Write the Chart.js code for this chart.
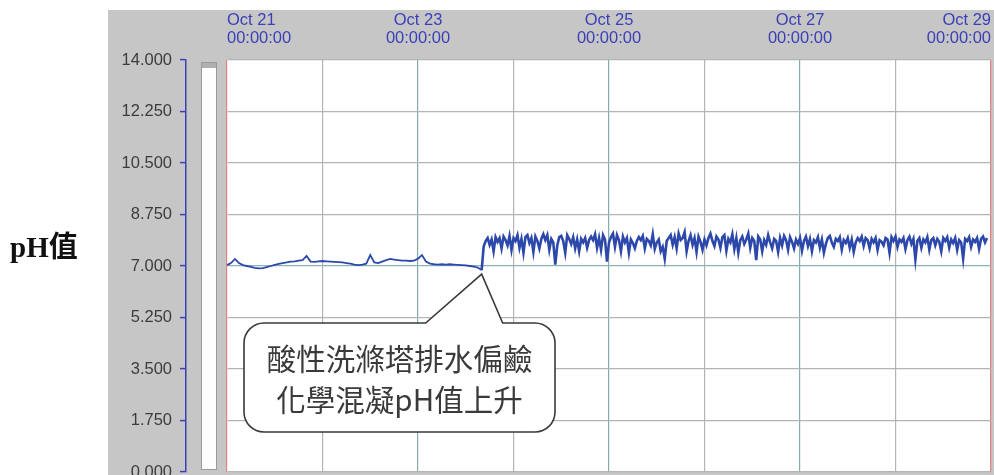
<!DOCTYPE html>
<html>
<head>
<meta charset="utf-8">
<script src="https://cdn.jsdelivr.net/npm/chart.js@4.4.1/dist/chart.umd.min.js"></script>
<style>
  html, body { margin: 0; padding: 0; background: #fff; }
  #wrap { width: 994px; height: 475px; }
</style>
</head>
<body>
<div id="wrap"><canvas id="phChart" width="994" height="475"></canvas></div>
<script>
// tick labels (one per day, Oct 21 00:00 = hour 0)
const dayLabels = ["Oct 21", "Oct 22", "Oct 23", "Oct 24", "Oct 25", "Oct 26", "Oct 27", "Oct 28", "Oct 29"];
const timeLabel = "00:00:00";
const yTicks = [0, 1.75, 3.5, 5.25, 7, 8.75, 10.5, 12.25, 14];

// hourly pH readings from Oct 21 00:00 to Oct 23 16:00
const phBefore = [
  7.03, 7.10, 7.24, 7.10, 7.03, 7.00, 6.97, 6.94, 6.92, 6.93, 6.96, 7.00, 7.04, 7.07, 7.10, 7.12,
  7.15, 7.16, 7.18, 7.20, 7.34, 7.15, 7.14, 7.16, 7.17, 7.16, 7.15, 7.14, 7.13, 7.12, 7.10, 7.08,
  7.05, 7.03, 7.05, 7.08, 7.37, 7.12, 7.10, 7.15, 7.20, 7.24, 7.22, 7.20, 7.18, 7.18, 7.17, 7.18,
  7.25, 7.37, 7.15, 7.08, 7.06, 7.05, 7.06, 7.05, 7.06, 7.05, 7.04, 7.03, 7.02, 7.00, 6.98, 6.95,
  6.86
];
// half-hourly pH readings from Oct 23 16:30 onward
const phAfter = [
  7.66, 7.85, 7.95, 7.72, 7.90, 7.50, 7.98, 7.82, 7.95, 7.60, 8.00, 7.88, 7.70, 8.02, 7.55, 7.95,
  7.85, 8.05, 7.62, 7.92, 7.45, 7.98, 8.05, 7.78, 7.95, 7.48, 8.00, 7.85, 7.60, 7.92, 8.08, 7.88,
  8.05, 7.55, 7.92, 7.80, 7.05, 7.70, 7.98, 8.02, 7.85, 7.45, 8.05, 7.92, 7.75, 7.98, 7.60, 7.90,
  7.50, 7.92, 7.80, 7.95, 7.62, 7.88, 8.00, 7.88, 8.08, 7.62, 7.95, 7.55, 8.05, 7.90, 7.15, 7.80,
  7.98, 8.10, 7.65, 8.05, 7.88, 7.50, 8.00, 7.80, 7.95, 7.45, 7.90, 7.78, 7.60, 7.85, 7.98, 7.88,
  8.02, 7.60, 7.92, 7.85, 7.70, 8.08, 7.58, 7.80, 7.90, 7.50, 7.65, 7.25, 7.85, 7.95, 8.05, 7.72,
  7.98, 7.60, 8.10, 7.88, 7.95, 8.15, 7.50, 7.85, 8.05, 7.72, 7.95, 7.48, 8.00, 7.82, 7.55, 7.90,
  7.70, 7.95, 8.10, 7.85, 7.68, 8.00, 7.90, 7.62, 7.98, 8.05, 7.52, 7.92, 7.80, 8.08, 7.58, 7.95,
  7.45, 7.88, 8.00, 7.75, 7.90, 8.10, 7.62, 7.95, 7.85, 7.20, 8.00, 7.90, 7.50, 7.88, 7.72, 8.05,
  7.80, 7.60, 7.92, 7.85, 7.48, 7.95, 7.70, 8.02, 7.88, 7.55, 7.98, 7.82, 7.60, 7.90, 7.75, 7.95,
  7.52, 7.85, 8.00, 7.68, 7.92, 7.50, 7.88, 7.80, 7.98, 7.62, 7.90, 7.45, 7.75, 7.95, 8.02, 7.80,
  7.65, 7.92, 7.85, 7.98, 7.55, 7.88, 7.78, 7.95, 7.62, 7.90, 7.48, 7.80, 7.95, 7.85, 8.00, 7.68,
  7.95, 7.88, 7.60, 7.92, 7.80, 7.95, 7.55, 7.88, 7.82, 7.70, 7.95, 7.90, 7.45, 7.98, 7.85, 8.00,
  7.65, 7.90, 7.82, 7.95, 7.58, 7.88, 8.00, 7.75, 7.92, 7.22, 7.85, 7.95, 7.62, 7.90, 7.80, 7.98,
  7.55, 7.88, 7.95, 7.70, 7.92, 7.82, 7.50, 7.95, 7.85, 7.98, 7.62, 7.90, 7.78, 7.95, 7.55, 7.88,
  7.80, 7.25, 7.92, 7.85, 7.98, 7.65, 7.90, 7.82, 7.95, 7.58, 7.92, 8.00, 7.80, 7.95
];
const calloutLines = ["酸性洗滌塔排水偏鹼", "化學混凝pH值上升"];
const axisTitle = "pH值";

const points = phBefore.map((v, i) => ({ x: i, y: v }))
  .concat(phAfter.map((v, i) => ({ x: phBefore.length - 0.5 + i / 2, y: v })));

const blue = "#3b3fb8";
const lineBlue = "#2c48ab";

const backdrop = {
  id: "backdrop",
  beforeDraw(chart) {
    const { ctx, chartArea: a } = chart;
    ctx.save();
    ctx.fillStyle = "#fff";
    ctx.fillRect(0, 0, chart.width, chart.height);
    ctx.fillStyle = "#c6c6c6";
    ctx.fillRect(108, 10, chart.width - 108, chart.height - 10);
    ctx.fillStyle = "#fff";
    ctx.fillRect(a.left, a.top, a.right - a.left, a.bottom - a.top);
    // scroll bar next to the axis
    ctx.fillStyle = "#fdfdfd";
    ctx.fillRect(a.left - 25, a.top + 2, 14, a.bottom - a.top - 4);
    ctx.strokeStyle = "#9a9a9a";
    ctx.lineWidth = 1;
    ctx.strokeRect(a.left - 25.5, a.top + 2.5, 15, a.bottom - a.top - 5);
    ctx.fillStyle = "#b0b0b0";
    ctx.fillRect(a.left - 25, a.top + 3, 14, 5);
    ctx.restore();
  },
  afterDraw(chart) {
    const { ctx } = chart;
    ctx.save();
    ctx.fillStyle = "#111";
    ctx.font = "bold 29px 'Liberation Serif', 'Noto Sans CJK TC', serif";
    ctx.textBaseline = "alphabetic";
    ctx.fillText(axisTitle, 10, 257);
    ctx.restore();
  }
};

const callout = {
  id: "callout",
  afterDatasetsDraw(chart) {
    const { ctx, chartArea: a, scales } = chart;
    const tipX = scales.x.getPixelForValue(phBefore.length - 1);
    const tipY = scales.y.getPixelForValue(phBefore[phBefore.length - 1]) + 4;
    const l = a.left + 17, t = a.top + 263, r = a.left + 328, b = a.top + 372, rad = 20;
    const p1 = tipX - 56, p2 = tipX + 21;
    ctx.save();
    ctx.beginPath();
    ctx.moveTo(l + rad, t);
    ctx.lineTo(p1, t);
    ctx.lineTo(tipX, tipY);
    ctx.lineTo(p2, t);
    ctx.lineTo(r - rad, t);
    ctx.arcTo(r, t, r, t + rad, rad);
    ctx.lineTo(r, b - rad);
    ctx.arcTo(r, b, r - rad, b, rad);
    ctx.lineTo(l + rad, b);
    ctx.arcTo(l, b, l, b - rad, rad);
    ctx.lineTo(l, t + rad);
    ctx.arcTo(l, t, l + rad, t, rad);
    ctx.closePath();
    ctx.fillStyle = "#fff";
    ctx.fill();
    ctx.strokeStyle = "#3a3a3a";
    ctx.lineWidth = 1.6;
    ctx.stroke();
    ctx.fillStyle = "#3a3a3a";
    ctx.font = "29.5px 'Noto Sans CJK TC', 'Liberation Serif', serif";
    ctx.textAlign = "center";
    ctx.textBaseline = "middle";
    const cx = (l + r) / 2;
    ctx.fillText(calloutLines[0], cx, t + 36);
    ctx.fillText(calloutLines[1], cx, t + 77);
    ctx.restore();
  }
};

new Chart(document.getElementById("phChart"), {
  type: "line",
  data: {
    datasets: [{
      data: points,
      borderColor: lineBlue,
      borderWidth: 2,
      segment: {
        borderWidth: (c) => (c.p0.parsed.x >= phBefore.length - 1 ? 2.6 : 1.8)
      },
      pointRadius: 0,
      tension: 0,
      fill: false
    }]
  },
  options: {
    responsive: false,
    animation: false,
    layout: { padding: { left: 0, right: 3, top: 0, bottom: 3 } },
    plugins: { legend: { display: false }, tooltip: { enabled: false } },
    scales: {
      x: {
        type: "linear",
        position: "top",
        min: 0,
        max: 192,
        afterFit(s) { s.height = 60; s.paddingLeft = 0; s.paddingRight = 0; },
        afterBuildTicks(s) { s.ticks = dayLabels.map((d, i) => ({ value: i * 24 })); },
        ticks: {
          autoSkip: false,
          maxRotation: 0,
          align: "inner",
          padding: 12,
          color: blue,
          font: { family: "'Liberation Sans', Arial, sans-serif", size: 16.5, lineHeight: 1.1 },
          callback: (v) => (v % 48 === 0 ? [dayLabels[v / 24], timeLabel] : "")
        },
        grid: {
          drawTicks: false,
          lineWidth: 1.2,
          color: (c) => {
            const v = c.tick ? c.tick.value : -1;
            if (v === 0 || v === 192) return "#e68080";
            if (v % 48 === 0) return "#84aca8";
            return "#b4b4b4";
          }
        },
        border: { display: false }
      },
      y: {
        position: "left",
        weight: 1,
        min: 0,
        max: 14,
        afterFit(s) { s.width = 186; s.paddingTop = 0; s.paddingBottom = 0; },
        afterBuildTicks(s) { s.ticks = yTicks.map((v) => ({ value: v })); },
        ticks: {
          padding: 8,
          color: "#3c3c3c",
          font: { family: "'Liberation Sans', Arial, sans-serif", size: 16.5 },
          callback: (v) => v.toFixed(3)
        },
        grid: {
          tickLength: 6,
          tickColor: blue,
          tickWidth: 1.5,
          lineWidth: 1.2,
          color: (c) => (c.tick && c.tick.value === 7 ? "#8cb4b0" : "#b4b4b4")
        },
        border: { display: true, color: blue, width: 1.5 }
      },
      gap: {
        type: "linear",
        position: "left",
        weight: 0,
        afterFit(s) { s.width = 41; s.paddingTop = 0; s.paddingBottom = 0; },
        ticks: { display: false },
        grid: { display: false },
        border: { display: false }
      }
    }
  },
  plugins: [backdrop, callout]
});
</script>
</body>
</html>
